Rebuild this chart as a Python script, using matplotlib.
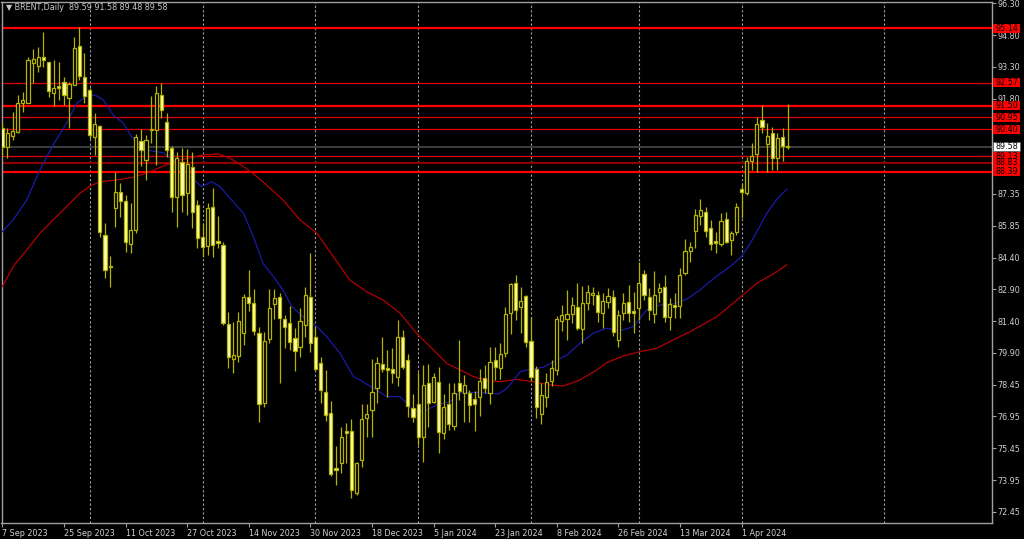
import numpy as np
import matplotlib
matplotlib.use("Agg")
import matplotlib.pyplot as plt
import matplotlib.transforms as mtransforms
from matplotlib.patches import Rectangle

# BRENT daily candles, 7 Sep 2023 .. 12 Apr 2024
opens = [90.45, 89.56, 90.09, 90.28, 91.64, 91.61, 93.49, 93.37, 93.80, 93.53,
         92.11, 92.40, 92.62, 91.84, 92.47, 94.30, 92.83, 92.23, 90.03, 90.54,
         85.43, 83.99, 86.68, 87.46, 87.04, 85.01, 85.67, 89.86, 88.95, 90.36,
         90.36, 92.00, 90.75, 89.50, 87.23, 88.87, 87.42, 88.61, 86.84, 85.32,
         84.92, 86.76, 85.16, 84.94, 81.26, 79.60, 79.76, 80.85, 82.51, 82.23,
         80.85, 77.57, 80.54, 82.20, 82.51, 81.48, 81.29, 80.59, 80.16, 81.21,
         82.54, 80.66, 79.44, 78.08, 77.10, 74.52, 74.72, 76.24, 76.25, 73.32,
         74.88, 76.83, 77.22, 78.24, 79.38, 79.18, 79.13, 78.76, 80.63, 79.57,
         77.30, 77.51, 75.94, 78.51, 77.61, 78.55, 76.13, 77.51, 76.47, 78.51,
         78.04, 78.04, 77.73, 77.82, 78.71, 78.04, 79.57, 79.18, 79.91, 81.79,
         83.17, 82.04, 82.58, 80.47, 79.13, 77.03, 77.85, 78.60, 79.10, 81.38,
         81.48, 81.73, 82.07, 81.01, 82.26, 82.62, 82.62, 81.79, 82.30, 82.54,
         80.51, 81.79, 82.30, 81.88, 81.99, 83.60, 82.54, 81.73, 82.77, 82.98,
         81.57, 82.17, 82.10, 83.66, 84.70, 85.64, 86.32, 86.52, 85.75, 85.17,
         85.01, 86.17, 85.20, 85.59, 87.58, 87.42, 88.92, 89.22, 90.83, 89.70,
         90.23, 89.03, 90.04, 89.59]
highs = [90.68, 90.45, 91.20, 91.99, 92.15, 93.80, 94.14, 94.26, 94.94, 93.53,
         93.64, 93.53, 92.86, 92.62, 94.73, 95.20, 93.95, 92.31, 91.15, 90.59,
         85.98, 84.43, 88.40, 87.86, 87.31, 86.92, 90.17, 90.39, 90.12, 91.95,
         92.42, 92.58, 91.14, 89.61, 89.34, 89.50, 89.45, 89.34, 87.07, 85.98,
         86.92, 87.62, 86.32, 85.12, 81.83, 81.37, 81.83, 82.66, 83.79, 82.88,
         81.13, 80.90, 82.88, 82.88, 82.70, 81.68, 82.08, 81.06, 82.00, 82.98,
         84.57, 81.13, 79.72, 79.10, 77.65, 75.54, 76.44, 76.60, 76.79, 74.80,
         77.51, 77.51, 79.60, 79.72, 80.66, 80.04, 80.12, 81.45, 80.98, 79.85,
         77.98, 79.02, 79.33, 79.38, 78.95, 79.26, 77.98, 78.48, 78.48, 80.51,
         78.88, 78.16, 78.13, 79.13, 79.33, 80.19, 80.19, 80.35, 82.07, 83.20,
         83.56, 83.01, 82.62, 81.57, 79.29, 78.48, 78.95, 79.57, 81.63, 82.15,
         82.85, 82.51, 83.20, 83.04, 83.09, 83.01, 82.82, 82.70, 82.93, 82.85,
         81.91, 82.73, 83.09, 82.78, 84.18, 83.79, 82.93, 83.76, 83.19, 83.56,
         82.46, 82.73, 83.87, 85.23, 85.12, 86.64, 87.11, 86.76, 86.14, 85.59,
         86.48, 86.52, 85.63, 86.95, 87.85, 89.11, 89.73, 90.98, 91.53, 90.70,
         90.51, 90.23, 90.44, 91.58]
lows = [89.18, 89.04, 89.89, 90.23, 91.22, 91.61, 92.55, 93.09, 93.33, 91.92,
        91.48, 91.76, 91.53, 90.44, 92.47, 92.70, 91.61, 89.95, 89.19, 85.35,
        83.40, 83.00, 85.82, 86.29, 84.65, 84.57, 85.51, 88.67, 88.01, 89.73,
        88.72, 90.92, 89.11, 86.53, 85.82, 86.53, 86.37, 85.74, 84.80, 84.41,
        84.49, 84.41, 84.81, 81.21, 79.18, 78.95, 79.49, 80.26, 81.88, 80.74,
        76.68, 77.35, 80.35, 81.48, 78.48, 80.11, 80.04, 79.07, 79.72, 80.66,
        79.96, 79.10, 77.56, 76.73, 74.13, 73.71, 74.25, 74.72, 73.08, 73.24,
        74.57, 75.97, 75.94, 77.56, 79.02, 77.82, 78.50, 78.35, 79.13, 76.91,
        76.68, 75.58, 74.80, 76.44, 77.54, 75.19, 75.85, 76.29, 76.29, 77.69,
        76.68, 76.68, 76.26, 76.95, 78.00, 77.51, 78.63, 78.67, 79.70, 80.79,
        81.45, 80.82, 80.20, 78.60, 76.84, 76.57, 77.38, 78.35, 78.86, 80.94,
        80.51, 81.32, 80.98, 80.35, 81.91, 82.15, 81.37, 81.06, 81.99, 80.70,
        80.19, 81.45, 81.37, 80.82, 81.44, 82.38, 81.45, 81.29, 82.30, 81.37,
        80.98, 81.52, 81.52, 83.56, 84.18, 84.81, 85.90, 85.35, 84.73, 84.60,
        84.92, 85.07, 84.49, 85.43, 86.22, 87.30, 88.48, 88.40, 90.20, 88.40,
        88.48, 88.48, 88.92, 89.48]
closes = [89.56, 90.22, 90.31, 91.61, 91.76, 93.64, 93.69, 93.80, 93.64, 92.20,
          92.31, 92.34, 92.00, 92.51, 94.19, 92.89, 91.95, 90.12, 90.64, 85.59,
          83.79, 83.92, 87.46, 87.04, 85.12, 85.67, 90.02, 89.42, 89.89, 90.42,
          92.11, 91.29, 89.42, 87.23, 89.03, 87.31, 88.76, 86.53, 85.27, 84.88,
          86.68, 84.96, 85.04, 81.32, 79.70, 79.80, 81.41, 82.51, 82.23, 80.94,
          77.51, 80.47, 82.00, 82.50, 81.53, 81.13, 80.43, 80.00, 81.41, 82.62,
          80.38, 79.13, 78.16, 76.99, 74.22, 74.41, 75.97, 76.13, 73.47, 74.75,
          76.79, 77.03, 78.08, 79.41, 79.15, 79.10, 78.97, 80.63, 79.25, 77.42,
          76.88, 75.94, 78.40, 77.57, 78.78, 76.21, 77.35, 76.57, 78.04, 78.13,
          78.40, 77.46, 77.51, 78.60, 78.24, 79.49, 79.26, 79.85, 81.73, 83.14,
          81.91, 82.35, 80.43, 78.76, 77.38, 77.93, 78.55, 79.18, 81.48, 81.68,
          81.73, 82.15, 81.05, 82.26, 82.78, 82.70, 81.83, 82.35, 82.56, 80.90,
          81.68, 82.26, 81.79, 81.79, 83.19, 82.62, 81.92, 82.62, 82.93, 81.57,
          82.20, 82.07, 83.56, 84.70, 84.86, 86.37, 86.60, 85.63, 85.01, 85.04,
          86.10, 85.12, 85.54, 86.73, 87.44, 88.92, 89.14, 90.63, 90.48, 90.08,
          89.03, 89.97, 89.61, 89.58]

# moving averages, read at sample bars
ma_fast_x = [0, 2.1, 4.75, 7.3, 9.9, 12.5, 14.5, 16.4, 18.1, 19.7, 21.6, 23.6, 25.2,
             26.8, 28.8, 31.4, 33.3, 35.9, 38.8, 40.8, 42.4, 44.7, 47, 48.9, 50.8,
             52.8, 54.7, 56.4, 58.6, 61.3, 63.2, 65.8, 68.4, 69.7, 72.3, 74.9, 77.5,
             80.1, 82, 84.6, 87.2, 89.2, 93.1, 96.6, 98.3, 100.9, 102.8, 105.4, 108,
             110, 112.5, 115.1, 117.7, 120.3, 122.9, 125.5, 128.1, 130.7, 133.3,
             135.9, 139.2, 141.8, 144.1, 146.3, 148.9, 150.9, 152.8]
ma_fast = [85.59, 86.14, 87.07, 88.48, 89.65, 90.67, 91.61, 91.95, 92.00, 91.76, 91.06,
           90.67, 90.02, 89.65, 89.39, 89.29, 88.95, 88.33, 87.70, 87.93, 87.70, 87.07,
           86.45, 85.35, 84.10, 83.48, 82.85, 82.07, 81.60, 81.13, 80.66, 79.88, 78.79,
           78.63, 78.24, 77.85, 77.85, 77.22, 77.14, 77.46, 77.61, 78.04, 78.04, 77.97,
           78.24, 79.02, 79.13, 79.23, 79.57, 79.80, 80.35, 80.82, 81.06, 80.94, 81.13,
           81.91, 82.15, 82.20, 82.42, 82.85, 83.51, 83.95, 84.45, 85.28, 86.45, 87.11,
           87.58]
ma_slow_x = [0, 2.1, 4.75, 7.3, 9.9, 12.5, 15.1, 17.1, 19.0, 22.3, 25.5, 28.8, 31.4,
             34.6, 39.2, 42.1, 44.4, 47.0, 49.6, 52.2, 54.7, 58.0, 61.3, 64.5, 67.7,
             71.0, 74.2, 77.5, 80.7, 84.0, 86.6, 89.2, 91.8, 94.4, 97.0, 100.2, 103.4,
             106.7, 109.3, 112.5, 115.8, 117.7, 121.0, 124.2, 127.5, 130.7, 134.0,
             139.2, 143.1, 147.0, 150.9, 152.8]
ma_slow = [83.01, 83.95, 84.73, 85.51, 86.14, 86.76, 87.39, 87.73, 87.93, 88.01, 88.14,
           88.40, 88.67, 88.95, 89.19, 89.23, 89.03, 88.64, 88.17, 87.62, 87.07, 86.14,
           85.51, 84.41, 83.32, 82.77, 82.38, 81.76, 80.82, 80.04, 79.41, 79.10, 78.79,
           78.60, 78.55, 78.66, 78.55, 78.40, 78.35, 78.63, 79.10, 79.44, 79.76, 79.96,
           80.12, 80.51, 80.90, 81.60, 82.38, 83.17, 83.71, 84.03]

# horizontal levels
levels = [95.14, 92.57, 91.50, 90.95, 90.40, 89.13, 88.83, 88.39]
level_widths = [1.6, 0.9, 1.6, 0.9, 0.9, 0.9, 1.6, 1.6]
level_colors = ["#ff0000", "#e00000", "#ff0000", "#e00000", "#e00000", "#e00000", "#8c0000", "#ff0000"]
last_price = 89.58

# x axis labels (every 12 bars) and month separators (bar index)
xtick_pos = [0, 12, 24, 36, 48, 60, 72, 84, 96, 108, 120, 132, 144]
xtick_labels = ["7 Sep 2023", "25 Sep 2023", "11 Oct 2023", "27 Oct 2023", "14 Nov 2023",
                "30 Nov 2023", "18 Dec 2023", "5 Jan 2024", "23 Jan 2024", "8 Feb 2024",
                "26 Feb 2024", "13 Mar 2024", "1 Apr 2024"]
separators = [17, 39, 61, 81, 103, 124, 144, 171.8]
# price scale labels (90.30 and 88.85 sit under the level boxes, left blank)
ytick_labels = ["96.30", "94.80", "93.30", "91.80", "", "", "87.35", "85.85",
                "84.40", "82.90", "81.40", "79.90", "78.45", "76.95", "75.45", "73.95", "72.45"]

o = np.array(opens); h = np.array(highs); l = np.array(lows); c = np.array(closes)
x = np.arange(len(o))

W, H = 1024, 539
fig = plt.figure(figsize=(W / 100, H / 100), dpi=100, facecolor="black")
ax = fig.add_axes([1.5 / W, (H - 523) / H, 990.5 / W, (523 - 1.7) / H])
ax.set_facecolor("black")
ax.set_xlim(-0.16, 192.8)
ax.set_ylim(71.924, 96.375)

olive = "#b4b400"
fill = "#ffffb4"
fs = 5.8

# separators
for s in separators:
    ax.axvline(s, color="#a0a0a0", lw=0.8, ls=(0, (2, 2)), zorder=1)

# levels
ax.axhline(last_price, color="#404448", lw=1.3, zorder=2)
for lv, lw_, col in zip(levels, level_widths, level_colors):
    ax.axhline(lv, color=col, lw=lw_, zorder=2)

# moving averages
ax.plot(ma_slow_x, ma_slow, color="#b40000", lw=0.9, zorder=3)
ax.plot(ma_fast_x, ma_fast, color="#1a1aa8", lw=0.9, zorder=3)

# candles
ax.vlines(x, l, h, color=olive, lw=0.9, zorder=4)
bull = c >= o
bw = 0.62
ax.bar(x[bull], (c - o)[bull], bottom=o[bull], width=bw, color="black",
       edgecolor=olive, linewidth=0.9, zorder=5)
ax.bar(x[~bull], (o - c)[~bull], bottom=c[~bull], width=bw, color=fill,
       edgecolor=olive, linewidth=0.9, zorder=5)

# axes look
for sp in ax.spines.values():
    sp.set_color("#a0a0a0")
    sp.set_linewidth(1.0)

ax.yaxis.tick_right()
ax.set_yticks(np.linspace(96.30, 72.45, len(ytick_labels)))
ax.set_yticklabels(ytick_labels)
ax.tick_params(axis="y", colors="#a0a0a0", labelcolor="#d0d0d0", labelsize=fs,
               length=3, width=0.8, pad=1)
ax.set_xticks(xtick_pos)
ax.set_xticklabels(xtick_labels)
ax.tick_params(axis="x", colors="#a0a0a0", labelcolor="#d0d0d0", labelsize=fs,
               length=3, width=0.8, pad=1.5)
for t in ax.get_xticklabels():
    t.set_horizontalalignment("left")

# price boxes on the right (27 x 9 px)
tr = mtransforms.blended_transform_factory(ax.transAxes, ax.transData)
px_per_unit = (523 - 1.7) / (96.375 - 71.924)
bx0 = (993 - 1.5) / 990.5
bwid = 27 / 990.5
bhgt = 9 / px_per_unit
bxc = bx0 + bwid / 2


def price_box(val, face, edge):
    ax.add_patch(Rectangle((bx0, val - bhgt / 2), bwid, bhgt, transform=tr,
                           fc=face, ec=edge, lw=0.6, clip_on=False, zorder=10))
    ax.text(bxc, val, f"{val:.2f}", transform=tr, ha="center", va="center",
            fontsize=fs, color="black", clip_on=False, zorder=11)


for lv in levels:
    price_box(lv, "#ff0000", "none")
price_box(last_price, "white", "#606060")

fig.text(6 / W, 1 - 8 / H, "\u25bc BRENT,Daily  89.59 91.58 89.48 89.58",
         color="#c8c8c8", fontsize=fs, va="center", ha="left")

fig.savefig("out.png", dpi=100, facecolor="black")
